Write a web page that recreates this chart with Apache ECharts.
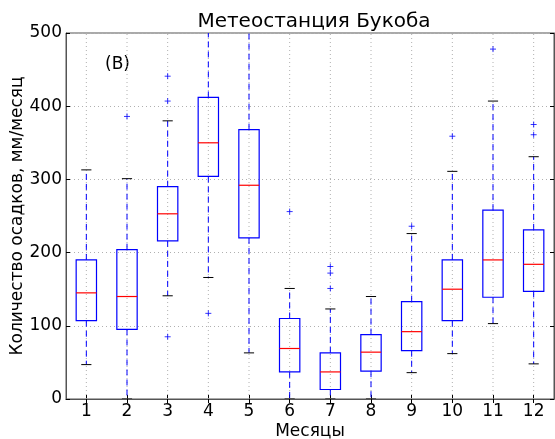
<!DOCTYPE html>
<html lang="ru">
<head>
    <meta charset="UTF-8">
    <title>Метеостанция Букоба</title>
    <script src="https://cdn.jsdelivr.net/npm/echarts@6/dist/echarts.min.js"></script>
    <style>
        body {
            margin: 0;
            background: #fff;
        }
        #main {
            width: 555px;
            height: 439px;
        }
    </style>
</head>
<body>
<div id="main"></div>
<script>
    // месяцы и статистики ящиков (мм/месяц)
    var months = ['1', '2', '3', '4', '5', '6', '7', '8', '9', '10', '11', '12'];
    var whiskerLow = [47, 0, 141, 166, 63, 0, 0, 0, 36, 62, 103, 48];
    var q1 = [107, 95, 216, 304, 220, 37, 13, 38, 66, 107, 139, 147];
    var median = [145, 140, 253, 350, 292, 69, 37, 64, 92, 150, 190, 184];
    var q3 = [190, 204, 290, 412, 368, 110, 63, 88, 133, 190, 258, 231];
    var whiskerHigh = [313, 301, 380, 560, 560, 151, 123, 140, 226, 311, 407, 331];
    // выбросы: номер месяца и значение
    var outlierMonth = ['2', '3', '3', '3', '4', '6', '7', '7', '7', '9', '10', '11', '12', '12'];
    var outlierValue = [386, 441, 407, 85, 117, 256, 181, 172, 151, 236, 359, 478, 375, 361];
    var yTicks = [0, 100, 200, 300, 400, 500];

    var font = 'DejaVu Sans';
    var frame = '#555';

    var boxData = months.map(function (m, i) {
        return [i, whiskerLow[i], q1[i], median[i], q3[i], whiskerHigh[i]];
    });
    var outliers = outlierValue.map(function (v, i) {
        return [outlierMonth[i], v];
    });

    function renderBox(params, api) {
        var i = api.value(0);
        var w = api.size([1, 0])[0] * 0.5;
        var pLow = api.coord([i, api.value(1)]);
        var pQ1 = api.coord([i, api.value(2)]);
        var pMed = api.coord([i, api.value(3)]);
        var pQ3 = api.coord([i, api.value(4)]);
        var pHigh = api.coord([i, api.value(5)]);
        var gTop = api.coord([i, yTicks[yTicks.length - 1]]);
        var gBot = api.coord([i, yTicks[0]]);
        var x = pMed[0];
        var dash = {stroke: '#0000ff', lineWidth: 1, lineDash: [6, 4]};
        var grid = {stroke: '#b0b0b0', lineWidth: 1, lineDash: [1, 3]};
        return {
            type: 'group',
            children: [
                {type: 'line', shape: {x1: x, y1: gBot[1], x2: x, y2: gTop[1]}, style: grid, silent: true},
                {type: 'line', shape: {x1: x, y1: pQ3[1], x2: x, y2: pHigh[1]}, style: dash},
                {type: 'line', shape: {x1: x, y1: pQ1[1], x2: x, y2: pLow[1]}, style: dash},
                {type: 'line', shape: {x1: x - w / 4, y1: pHigh[1], x2: x + w / 4, y2: pHigh[1]},
                    style: {stroke: '#000', lineWidth: 1}},
                {type: 'line', shape: {x1: x - w / 4, y1: pLow[1], x2: x + w / 4, y2: pLow[1]},
                    style: {stroke: '#000', lineWidth: 1}},
                {type: 'rect', shape: {x: x - w / 2, y: pQ3[1], width: w, height: pQ1[1] - pQ3[1]},
                    style: {fill: 'none', stroke: '#0000ff', lineWidth: 1.2}},
                {type: 'line', shape: {x1: x - w / 2, y1: pMed[1], x2: x + w / 2, y2: pMed[1]},
                    style: {stroke: '#ff0000', lineWidth: 1.2}}
            ]
        };
    }

    var chart = echarts.init(document.getElementById('main'));

    var tickStyle = {show: true, inside: true, length: 4, lineStyle: {color: '#000'}};

    chart.setOption({
        animation: false,
        title: {
            text: 'Метеостанция Букоба',
            left: 309,
            textAlign: 'center',
            top: 7,
            textStyle: {fontFamily: font, fontSize: 20, fontWeight: 'normal', color: '#000'}
        },
        graphic: [{
            type: 'text',
            left: 105,
            top: 56,
            style: {text: '(B)', font: '17px "DejaVu Sans"', fill: '#000'}
        }],
        grid: {
            left: 66, right: 1, top: 33, bottom: 40,
            outerBoundsMode: 'none', containLabel: false,
            show: true, borderColor: frame, borderWidth: 1
        },
        xAxis: [{
            type: 'category',
            data: months,
            boundaryGap: true,
            name: 'Месяцы',
            nameLocation: 'middle',
            nameGap: 24,
            nameMoveOverlap: false,
            nameTextStyle: {fontFamily: font, fontSize: 17, color: '#000'},
            axisLine: {lineStyle: {color: frame}},
            axisTick: Object.assign({alignWithLabel: true}, tickStyle),
            axisLabel: {fontFamily: font, fontSize: 17, color: '#000', margin: 4},
            splitLine: {show: false}
        }, {
            type: 'category',
            data: months,
            position: 'top',
            boundaryGap: true,
            axisLine: {lineStyle: {color: frame}},
            axisTick: Object.assign({alignWithLabel: true}, tickStyle),
            axisLabel: {show: false},
            splitLine: {show: false}
        }],
        yAxis: [{
            type: 'value',
            min: 0,
            max: 500,
            interval: 100,
            name: 'Количество осадков, мм/месяц',
            nameLocation: 'middle',
            nameGap: 40,
            nameMoveOverlap: false,
            nameTextStyle: {fontFamily: font, fontSize: 17, color: '#000'},
            axisLine: {show: true, lineStyle: {color: frame}},
            axisTick: tickStyle,
            axisLabel: {fontFamily: font, fontSize: 17, color: '#000', margin: 4},
            splitLine: {show: true, lineStyle: {color: '#b0b0b0', type: [1, 3]}}
        }, {
            type: 'value',
            min: 0,
            max: 500,
            interval: 100,
            position: 'right',
            axisLine: {show: true, lineStyle: {color: frame}},
            axisTick: tickStyle,
            axisLabel: {show: false},
            splitLine: {show: false}
        }],
        series: [{
            type: 'custom',
            renderItem: renderBox,
            clip: true,
            encode: {x: 0, y: [1, 2, 3, 4, 5]},
            data: boxData
        }, {
            type: 'scatter',
            symbol: 'path://M5,0 L5,10 M0,5 L10,5',
            symbolSize: 6,
            itemStyle: {color: 'none', borderColor: '#0000ff', borderWidth: 1},
            data: outliers
        }]
    });
</script>
</body>
</html>
